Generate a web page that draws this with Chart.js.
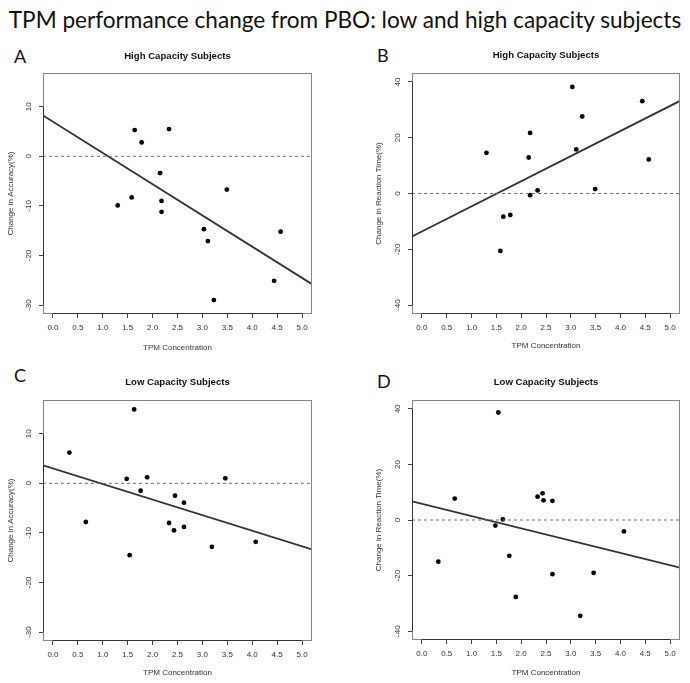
<!DOCTYPE html>
<html>
<head>
<meta charset="utf-8">
<script src="https://cdn.jsdelivr.net/npm/chart.js@4.4.1/dist/chart.umd.min.js"></script>
<style>
  body { margin: 0; background: #fff; width: 690px; height: 683px; position: relative; overflow: hidden; font-family: Lato, "Open Sans", sans-serif; }
  #mainTitle { position: absolute; left: 0; width: 690px; top: 9px; text-align: center; font-size: 22.6px; line-height: 1; color: #111; white-space: nowrap; }
  .letter { position: absolute; font-size: 18px; line-height: 1; color: #111; }
  canvas { position: absolute; }
</style>
</head>
<body>
<div id="mainTitle">TPM performance change from PBO: low and high capacity subjects</div>
<div class="letter" style="left:14px;top:47px">A</div>
<div class="letter" style="left:377px;top:46px">B</div>
<div class="letter" style="left:14px;top:366px">C</div>
<div class="letter" style="left:377px;top:372px">D</div>
<canvas id="chartA" width="345" height="315" style="left:0;top:40px"></canvas>
<canvas id="chartB" width="345" height="315" style="left:345px;top:40px"></canvas>
<canvas id="chartC" width="345" height="323" style="left:0;top:360px"></canvas>
<canvas id="chartD" width="345" height="323" style="left:345px;top:360px"></canvas>
<script>
// data
const xHigh = [1.30, 1.58, 1.64, 1.78, 2.15, 2.18, 2.18, 2.33, 3.03, 3.11, 3.23, 3.49, 4.44, 4.57]
const accHigh = [-9.9, -8.3, 5.3, 2.8, -3.4, -9.0, -11.2, 5.5, -14.7, -17.1, -29.0, -6.7, -25.1, -15.2]
const rtHigh = [14.6, -20.6, -8.3, -7.7, 12.9, 21.7, -0.6, 1.1, 38.2, 15.8, 27.6, 1.6, 33.1, 12.2]

const xLow = [0.33, 0.66, 1.48, 1.54, 1.63, 1.76, 1.89, 2.33, 2.43, 2.45, 2.63, 2.63, 3.19, 3.46, 4.07]
const accLow = [6.2, -7.8, 0.9, -14.5, 14.9, -1.5, 1.2, -8.0, -9.5, -2.5, -3.9, -8.8, -12.8, 1.0, -11.8]
const rtLow = [-15.0, 7.7, -2.0, 38.7, 0.2, -12.9, -27.7, 8.4, 9.6, 7.1, 6.9, -19.5, -34.5, -19.0, -4.1]

// fitted regression lines [intercept, slope]
const fitA = [6.98, -6.30]
const fitB = [-13.6, 9.0]
const fitC = [3.0, -3.14]
const fitD = [5.8, -4.42]

// axes
const xTicks = [0, 0.5, 1, 1.5, 2, 2.5, 3, 3.5, 4, 4.5, 5]
const xRange = [-0.2, 5.2]
const accTicks = [-30, -20, -10, 0, 10]
const accRange = [-31.8, 16.8]
const rtTicks = [-40, -20, 0, 20, 40]
const rtRange = [-43.2, 43.2]

const fontFam = '"Liberation Sans", Arial, sans-serif'

// grey frame + dark axis lines between first and last tick (R style)
const frame = {
    id: 'frame',
    afterDatasetsDraw(chart) {
        const {ctx, chartArea: a, scales: {x, y}} = chart
        ctx.save()
        ctx.lineWidth = 1
        ctx.strokeStyle = '#858585'
        ctx.strokeRect(a.left + 0.5, a.top + 0.5, a.width - 1, a.height - 1)
        ctx.strokeStyle = '#333'
        const yt = y.ticks
        ctx.beginPath()
        ctx.moveTo(a.left + 0.5, y.getPixelForValue(yt[0].value))
        ctx.lineTo(a.left + 0.5, y.getPixelForValue(yt[yt.length - 1].value))
        const xt = x.ticks
        ctx.moveTo(x.getPixelForValue(xt[0].value), a.bottom - 0.5)
        ctx.lineTo(x.getPixelForValue(xt[xt.length - 1].value), a.bottom - 0.5)
        ctx.stroke()
        ctx.restore()
    }
}

function makePanel(id, xs, ys, fit, yTicks, yRange, heading, yLabel, box) {
    const points = xs.map((v, i) => ({ x: v, y: ys[i] }))
    const fitLine = xRange.map(v => ({ x: v, y: fit[0] + fit[1] * v }))
    const zeroLine = xRange.map(v => ({ x: v, y: 0 }))
    const canvas = document.getElementById(id)
    const titlePadTop = box.titleY - 5.76
    return new Chart(canvas, {
        type: 'scatter',
        data: {
            datasets: [{
                data: zeroLine,
                showLine: true,
                borderColor: '#6e6e6e',
                borderWidth: 1,
                borderDash: [3, 3],
                pointRadius: 0
            }, {
                data: fitLine,
                showLine: true,
                borderColor: '#333',
                borderWidth: 1.8,
                pointRadius: 0
            }, {
                data: points,
                pointRadius: 2.4,
                backgroundColor: '#000',
                borderColor: '#000',
                borderWidth: 0
            }]
        },
        options: {
            responsive: false,
            animation: false,
            layout: { padding: { left: 0, right: box.right, top: 0, bottom: 0 } },
            plugins: {
                legend: { display: false },
                tooltip: { enabled: false },
                title: {
                    display: true,
                    text: heading,
                    fullSize: false,
                    color: '#111',
                    font: { family: fontFam, size: 9.6, weight: 'bold' },
                    padding: { top: titlePadTop, bottom: box.top - 11.52 - titlePadTop }
                }
            },
            scales: {
                x: {
                    type: 'linear',
                    min: xRange[0],
                    max: xRange[1],
                    afterBuildTicks: s => { s.ticks = xTicks.map(v => ({ value: v })) },
                    afterFit: s => { s.height = canvas.height - box.bottom },
                    grid: { drawOnChartArea: false, drawTicks: true, tickLength: 4, color: '#444' },
                    border: { display: false },
                    ticks: {
                        padding: 5,
                        color: '#333',
                        font: { family: fontFam, size: 8 },
                        callback: v => v.toFixed(1)
                    },
                    title: {
                        display: true,
                        text: 'TPM Concentration',
                        color: '#333',
                        font: { family: fontFam, size: 8 },
                        padding: { top: 0, bottom: canvas.height - box.xTitleY - 4.8 }
                    }
                },
                y: {
                    type: 'linear',
                    min: yRange[0],
                    max: yRange[1],
                    afterBuildTicks: s => { s.ticks = yTicks.map(v => ({ value: v })) },
                    afterFit: s => { s.width = box.left },
                    grid: { drawOnChartArea: false, drawTicks: true, tickLength: 4, color: '#444' },
                    border: { display: false },
                    ticks: {
                        minRotation: 90,
                        maxRotation: 90,
                        crossAlign: 'center',
                        padding: 4.2,
                        color: '#333',
                        font: { family: fontFam, size: 8 }
                    },
                    title: {
                        display: true,
                        text: yLabel,
                        color: '#333',
                        font: { family: fontFam, size: 8 },
                        padding: { top: box.yTitleX - 4.8, bottom: 0 }
                    }
                }
            }
        },
        plugins: [frame]
    })
}

const chartA = makePanel('chartA', xHigh, accHigh, fitA, accTicks, accRange,
    'High Capacity Subjects', 'Change in Accuracy(%)',
    { left: 43, right: 33, top: 33, bottom: 274, titleY: 16, xTitleY: 308, yTitleX: 11 })
const chartB = makePanel('chartB', xHigh, rtHigh, fitB, rtTicks, rtRange,
    'High Capacity Subjects', 'Change in Reaction Time(%)',
    { left: 67, right: 10, top: 33, bottom: 274, titleY: 15, xTitleY: 306, yTitleX: 34 })
const chartC = makePanel('chartC', xLow, accLow, fitC, accTicks, accRange,
    'Low Capacity Subjects', 'Change in Accuracy(%)',
    { left: 43, right: 33, top: 40, bottom: 281, titleY: 22, xTitleY: 313, yTitleX: 11 })
const chartD = makePanel('chartD', xLow, rtLow, fitD, rtTicks, rtRange,
    'Low Capacity Subjects', 'Change in Reaction Time(%)',
    { left: 67, right: 10, top: 40, bottom: 280, titleY: 22, xTitleY: 313, yTitleX: 34 })
</script>
</body>
</html>
